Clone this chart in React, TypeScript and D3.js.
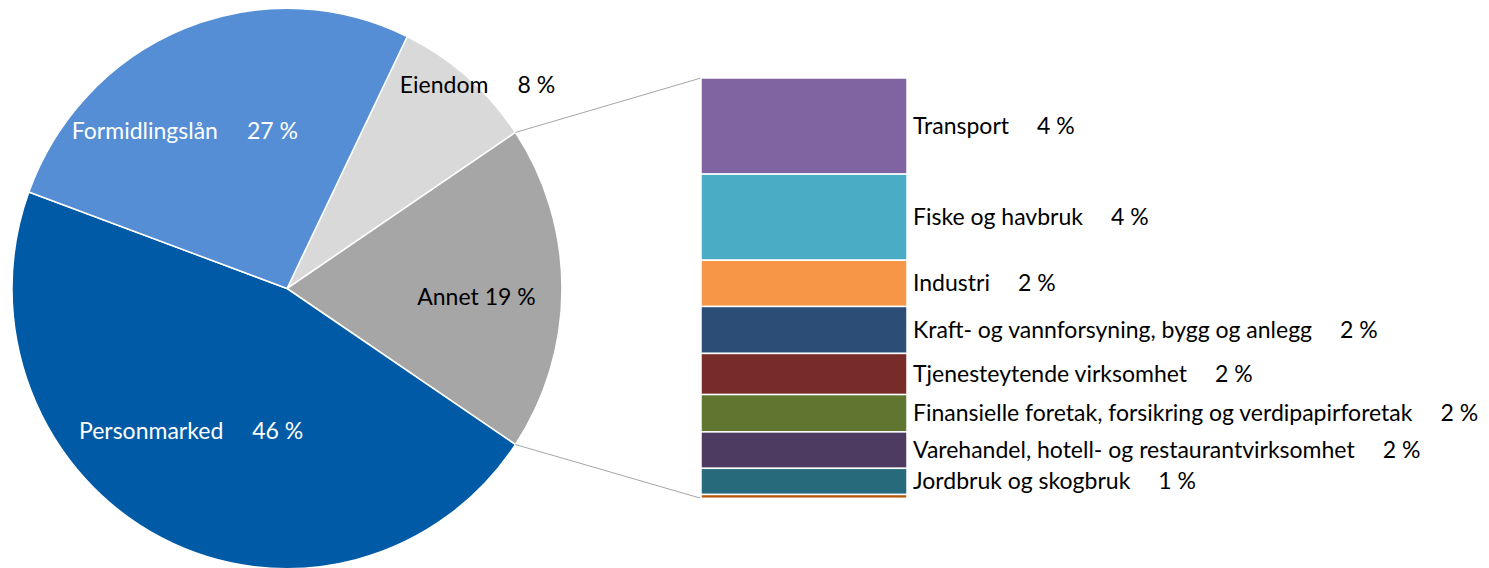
import React from "react";
import * as d3 from "d3";

// hovedfordeling
const pieNames = ["Eiendom", "Annet", "Personmarked", "Formidlingslån"];
const pieValues = [8.4, 18.8, 46.2, 26.6];
const pieLabels = ["8 %", "19 %", "46 %", "27 %"];
const pieColors = ["#D9D9D9", "#A6A6A6", "#005AA5", "#558ED5"];
const pieTextColors = ["#000", "#000", "#fff", "#fff"];

// Annet fordelt på næring
const barNames = [
  "Transport",
  "Fiske og havbruk",
  "Industri",
  "Kraft- og vannforsyning, bygg og anlegg",
  "Tjenesteytende virksomhet",
  "Finansielle foretak, forsikring og verdipapirforetak",
  "Varehandel, hotell- og restaurantvirksomhet",
  "Jordbruk og skogbruk",
  "",
];
const barValues = [4.3, 3.85, 2.07, 2.1, 1.84, 1.67, 1.63, 1.17, 0.17];
const barLabels = ["4 %", "4 %", "2 %", "2 %", "2 %", "2 %", "2 %", "1 %", ""];
const barColors = ["#8064A2", "#4BACC6", "#F79646", "#2C4D75", "#772C2A", "#5F7530", "#4D3B62", "#276A7C", "#B65708"];

const W = 1489;
const H = 568;
const cx = 287;
const cy = 288.5;
const R = 275;
const ySquash = 1.019;
const font = "Lato, 'Noto Sans', sans-serif";
const fs = 23;

// label placement inside the pie: [angle shift (deg), radius fraction]
const pieLabelPlace = [[2.8, 1.0], [2.8, 0.69], [7.2, 0.62], [-11.7, 0.67]];

export default function App() {
  const annetIdx = pieNames.indexOf("Annet");
  const annetDeg = (pieValues[annetIdx] / d3.sum(pieValues)) * 360;
  const beforeDeg = (d3.sum(pieValues.slice(0, annetIdx)) / d3.sum(pieValues)) * 360;
  const start = ((90 - annetDeg / 2 - beforeDeg) * Math.PI) / 180;

  const pie = d3.pie<number>().sort(null).startAngle(start).endAngle(start + 2 * Math.PI);
  const arcs = pie(pieValues);
  const arc = d3.arc<d3.PieArcDatum<number>>().innerRadius(0).outerRadius(R);

  const pt = (a: number, r: number) => [cx + r * Math.sin(a), cy - r * Math.cos(a) * ySquash];

  const barX0 = 701;
  const barX1 = 907;
  const y = d3.scaleLinear([0, d3.sum(barValues)], [78, 498.3]);
  const cum = d3.cumsum(barValues);

  const annet = arcs[annetIdx];
  const pTop = pt(annet.startAngle, R);
  const pBot = pt(annet.endAngle, R);

  return (
    <svg width={W} height={H} style={{ position: "absolute", left: 0, top: 0 }} fontFamily={font}>
      <rect width={W} height={H} fill="#fff" />
      <g transform={`translate(${cx},${cy}) scale(1,${ySquash})`}>
        {arcs.map((a, i) => (
          <path key={i} d={arc(a) as string} fill={pieColors[i]} stroke="#fff" strokeWidth={1.5} />
        ))}
      </g>
      {arcs.map((a, i) => {
        const [da, rf] = pieLabelPlace[i];
        const mid = (a.startAngle + a.endAngle) / 2 + (da * Math.PI) / 180;
        const [lx, ly] = pt(mid, R * rf);
        const sep = pieNames[i] === "Annet" ? 6 : 29;
        return (
          <text key={i} x={lx} y={ly - 2} textAnchor="middle" dominantBaseline="central" fontSize={fs} fill={pieTextColors[i]}>
            {pieNames[i]}
            <tspan dx={sep}>{pieLabels[i]}</tspan>
          </text>
        );
      })}
      <line x1={pTop[0]} y1={pTop[1]} x2={barX0} y2={y(0)} stroke="#A6A6A6" strokeWidth={1} />
      <line x1={pBot[0]} y1={pBot[1]} x2={barX0} y2={y(d3.sum(barValues))} stroke="#A6A6A6" strokeWidth={1} />
      {barValues.map((v, i) => {
        const y0 = y(cum[i] - v);
        const y1 = y(cum[i]);
        return (
          <g key={i}>
            <rect x={barX0} y={y0} width={barX1 - barX0} height={y1 - y0} fill={barColors[i]} stroke="#fff" strokeWidth={1.5} />
            {barNames[i] && (
              <text x={913} y={(y0 + y1) / 2 - 1} dominantBaseline="central" fontSize={fs} fill="#000">
                {barNames[i]}
                <tspan dx={28}>{barLabels[i]}</tspan>
              </text>
            )}
          </g>
        );
      })}
    </svg>
  );
}
